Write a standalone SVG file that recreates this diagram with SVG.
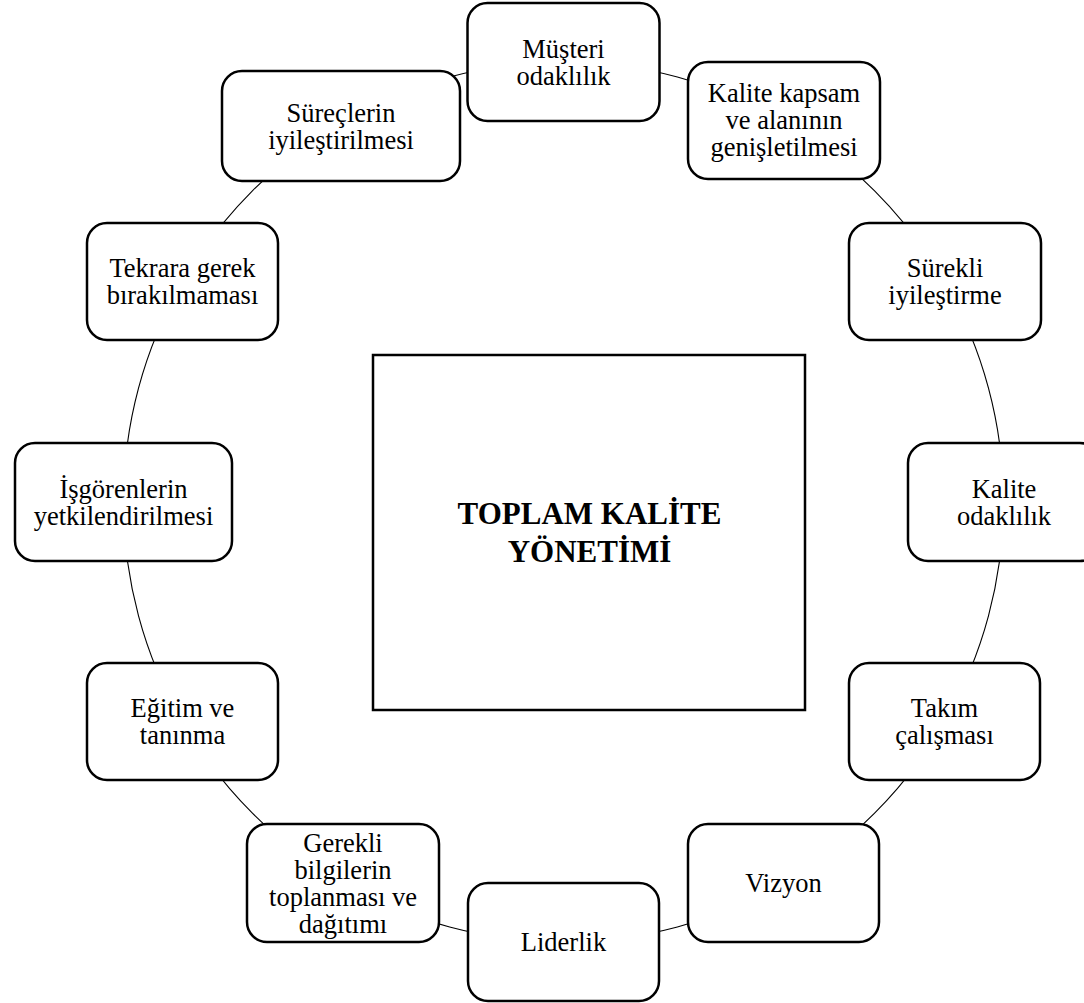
<svg xmlns="http://www.w3.org/2000/svg" width="1084" height="1003" viewBox="0 0 1084 1003">
<style>
.node rect{fill:#fff;stroke:#000;stroke-width:2.5}
.node text{font-family:"Liberation Serif","Times New Roman",serif;font-size:26.5px;fill:#000;text-anchor:middle}
.conn path{fill:none;stroke:#000;stroke-width:1.1}
.center rect{fill:#fff;stroke:#000;stroke-width:2.5}
.center text{font-family:"Liberation Serif","Times New Roman",serif;font-size:31px;font-weight:bold;fill:#000;text-anchor:middle}
</style>
<rect width="1084" height="1003" fill="#fff"/>
<g id="connectors" class="conn">
<path d="M563.5 62 A440 440 0 0 1 783.5 120.9"/>
<path d="M783.5 120.9 A440 440 0 0 1 944.5 282"/>
<path d="M944.5 282 A440 440 0 0 1 1003.5 502"/>
<path d="M1003.5 502 A440 440 0 0 1 944.5 722"/>
<path d="M944.5 722 A440 440 0 0 1 783.5 883.1"/>
<path d="M783.5 883.1 A440 440 0 0 1 563.5 942"/>
<path d="M563.5 942 A440 440 0 0 1 343.5 883.1"/>
<path d="M343.5 883.1 A440 440 0 0 1 182.5 722"/>
<path d="M182.5 722 A440 440 0 0 1 123.5 502"/>
<path d="M123.5 502 A440 440 0 0 1 182.5 282"/>
<path d="M182.5 282 A440 440 0 0 1 343.5 120.9"/>
<path d="M343.5 120.9 A440 440 0 0 1 563.5 62"/>
</g>
<g id="center" class="center">
<rect x="373" y="355" width="432" height="355"/>
<text x="589.5" y="524">TOPLAM KALİTE</text>
<text x="589.5" y="562">YÖNETİMİ</text>
</g>
<g id="n1" class="node">
<rect x="467.5" y="3" width="192" height="118" rx="20"/>
<text x="563.5" y="57.5">Müşteri</text>
<text x="563.5" y="84.5">odaklılık</text>
</g>
<g id="n2" class="node">
<rect x="688" y="62" width="192" height="117" rx="20"/>
<text x="784" y="102">Kalite kapsam</text>
<text x="784" y="129">ve alanının</text>
<text x="784" y="156">genişletilmesi</text>
</g>
<g id="n3" class="node">
<rect x="849" y="223" width="192" height="117" rx="20"/>
<text x="945" y="277">Sürekli</text>
<text x="945" y="304">iyileştirme</text>
</g>
<g id="n4" class="node">
<rect x="908" y="443" width="192" height="118" rx="20"/>
<text x="1004" y="497.5">Kalite</text>
<text x="1004" y="524.5">odaklılık</text>
</g>
<g id="n5" class="node">
<rect x="849" y="663" width="191" height="117" rx="20"/>
<text x="944.5" y="717">Takım</text>
<text x="944.5" y="744">çalışması</text>
</g>
<g id="n6" class="node">
<rect x="688" y="824" width="191" height="118" rx="20"/>
<text x="783.5" y="892">Vizyon</text>
</g>
<g id="n7" class="node">
<rect x="468" y="883" width="191" height="118" rx="20"/>
<text x="563.5" y="951">Liderlik</text>
</g>
<g id="n8" class="node">
<rect x="247" y="824" width="192" height="118" rx="20"/>
<text x="343" y="851.5">Gerekli</text>
<text x="343" y="878.5">bilgilerin</text>
<text x="343" y="905.5">toplanması ve</text>
<text x="343" y="932.5">dağıtımı</text>
</g>
<g id="n9" class="node">
<rect x="87" y="663" width="191" height="117" rx="20"/>
<text x="182.5" y="717">Eğitim ve</text>
<text x="182.5" y="744">tanınma</text>
</g>
<g id="n10" class="node">
<rect x="15" y="443" width="217" height="118" rx="20"/>
<text x="123.5" y="497.5">İşgörenlerin</text>
<text x="123.5" y="524.5">yetkilendirilmesi</text>
</g>
<g id="n11" class="node">
<rect x="87" y="223" width="191" height="117" rx="20"/>
<text x="182.5" y="277">Tekrara gerek</text>
<text x="182.5" y="304">bırakılmaması</text>
</g>
<g id="n12" class="node">
<rect x="222" y="71" width="238" height="110" rx="20"/>
<text x="341" y="121.5">Süreçlerin</text>
<text x="341" y="148.5">iyileştirilmesi</text>
</g>
</svg>
